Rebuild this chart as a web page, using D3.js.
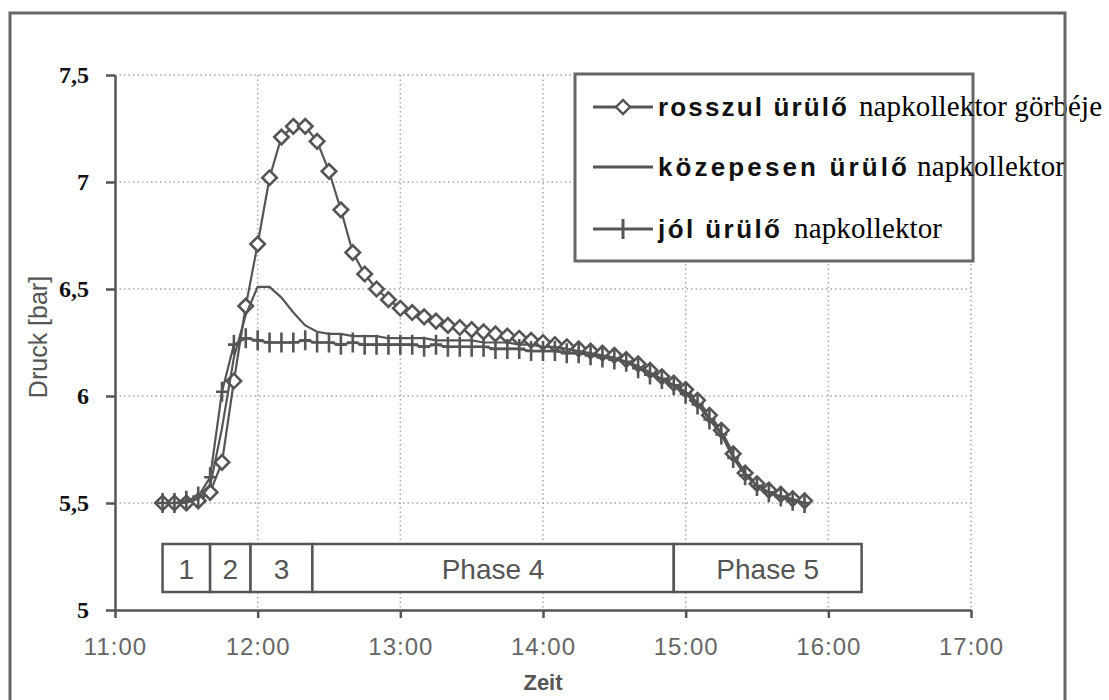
<!DOCTYPE html>
<html><head><meta charset="utf-8">
<script src="https://cdn.jsdelivr.net/npm/d3@7"></script>
<style>body{margin:0;background:#fff}</style>
</head><body>
<script>
// ---------- DATA ----------
const times = ["11:20","11:25","11:30","11:35","11:40","11:45","11:50","11:55",
 "12:00","12:05","12:10","12:15","12:20","12:25","12:30","12:35","12:40","12:45","12:50","12:55",
 "13:00","13:05","13:10","13:15","13:20","13:25","13:30","13:35","13:40","13:45","13:50","13:55",
 "14:00","14:05","14:10","14:15","14:20","14:25","14:30","14:35","14:40","14:45","14:50","14:55",
 "15:00","15:05","15:10","15:15","15:20","15:25","15:30","15:35","15:40","15:45","15:50"];
const rosszul = [5.50,5.50,5.50,5.51,5.55,5.69,6.07,6.42,
 6.71,7.02,7.21,7.26,7.26,7.19,7.05,6.87,6.67,6.57,6.50,6.45,
 6.41,6.39,6.37,6.35,6.33,6.32,6.31,6.30,6.29,6.28,6.27,6.26,
 6.25,6.24,6.23,6.22,6.21,6.20,6.19,6.17,6.15,6.12,6.09,6.06,
 6.03,5.98,5.91,5.84,5.73,5.64,5.59,5.56,5.54,5.52,5.51];
const kozepesen = [5.50,5.50,5.50,5.52,5.58,5.85,6.18,6.38,
 6.51,6.51,6.46,6.39,6.33,6.30,6.29,6.29,6.28,6.28,6.28,6.27,
 6.27,6.27,6.27,6.26,6.26,6.26,6.26,6.25,6.25,6.25,6.24,6.24,
 6.23,6.23,6.22,6.21,6.20,6.19,6.18,6.16,6.14,6.11,6.08,6.05,
 6.02,5.97,5.90,5.83,5.72,5.64,5.58,5.55,5.53,5.52,5.50];
const jol = [5.50,5.50,5.51,5.53,5.62,6.02,6.24,6.27,
 6.26,6.25,6.25,6.25,6.26,6.25,6.25,6.24,6.25,6.24,6.24,6.24,
 6.24,6.24,6.23,6.24,6.23,6.23,6.23,6.23,6.22,6.22,6.22,6.21,
 6.21,6.21,6.20,6.20,6.19,6.18,6.17,6.16,6.13,6.10,6.08,6.05,
 6.01,5.96,5.89,5.82,5.71,5.63,5.58,5.55,5.53,5.51,5.50];
const xTickValues = [11,12,13,14,15,16,17];
const xTickLabels = ["11:00","12:00","13:00","14:00","15:00","16:00","17:00"];
const yTickValues = [5,5.5,6,6.5,7,7.5];
const yTickLabels = ["5","5,5","6","6,5","7","7,5"];
const phaseStarts = ["11:20","11:40","11:57","12:23","14:55"];
const phaseEnds   = ["11:40","11:57","12:23","14:55","16:14"];
const phaseLabels = ["1","2","3","Phase 4","Phase 5"];
const legendBold = ["rosszul ürülő","közepesen ürülő","jól ürülő"];
const legendNormal = ["napkollektor görbéje","napkollektor","napkollektor"];
const xTitle = "Zeit";
const yTitle = "Druck [bar]";

// ---------- SETUP ----------
const W = 1109, H = 700;
const ink = "#555";
const svg = d3.select("body").append("svg").attr("width", W).attr("height", H)
  .style("background", "#fff");
const toH = s => { const [h, m] = s.split(":").map(Number); return h + m / 60; };
const x = d3.scaleLinear().domain([11, 17]).range([115, 971]);
const y = d3.scaleLinear().domain([5, 7.5]).range([610, 75]);

// gridlines (dotted)
const grid = svg.append("g").attr("stroke", "#a8a8a8").attr("stroke-width", 1.5)
  .attr("stroke-dasharray", "1.5,3");
grid.selectAll(".h").data(yTickValues.slice(1)).join("line")
  .attr("x1", x(11)).attr("x2", x(17)).attr("y1", d => y(d)).attr("y2", d => y(d));
grid.selectAll(".v").data(xTickValues.slice(1)).join("line")
  .attr("y1", y(7.5)).attr("y2", y(5)).attr("x1", d => x(d)).attr("x2", d => x(d));

// axes
const yAxis = svg.append("g").attr("transform", `translate(${x(11)},0)`)
  .call(d3.axisLeft(y).tickValues(yTickValues).tickSize(9).tickSizeOuter(0).tickPadding(17)
    .tickFormat((d, i) => yTickLabels[i]));
yAxis.selectAll("path,line").attr("stroke", ink).attr("stroke-width", 2.5);
yAxis.selectAll("text").attr("font-family", "Liberation Serif, serif").attr("font-weight", "bold")
  .attr("font-size", 24).attr("fill", "#111");

const xAxis = svg.append("g").attr("transform", `translate(0,${y(5)})`)
  .call(d3.axisBottom(x).tickValues(xTickValues).tickSize(8).tickSizeOuter(0).tickPadding(20)
    .tickFormat((d, i) => xTickLabels[i]));
xAxis.selectAll("path,line").attr("stroke", ink).attr("stroke-width", 2.5);
xAxis.selectAll("text").attr("font-family", "Liberation Sans, Arial, sans-serif")
  .attr("font-size", 24).attr("fill", "#666").attr("letter-spacing", 1);

// axis titles
svg.append("text").attr("x", x(14)).attr("y", 690).attr("text-anchor", "middle")
  .attr("font-family", "Liberation Sans, Arial, sans-serif").attr("font-weight", "bold")
  .attr("font-size", 22).attr("fill", ink).text(xTitle);
svg.append("text").attr("transform", "translate(47,337) rotate(-90)").attr("text-anchor", "middle")
  .attr("font-family", "Liberation Sans, Arial, sans-serif").attr("font-size", 25)
  .attr("fill", ink).text(yTitle);

// phase boxes
const pg = svg.append("g");
const phases = phaseLabels.map((l, i) => ({ l, a: toH(phaseStarts[i]), b: toH(phaseEnds[i]) }));
pg.selectAll("rect").data(phases).join("rect")
  .attr("x", d => x(d.a)).attr("width", d => x(d.b) - x(d.a))
  .attr("y", 544).attr("height", 48)
  .attr("fill", "#fff").attr("stroke", ink).attr("stroke-width", 2.5);
pg.selectAll("text").data(phases).join("text")
  .attr("x", d => (x(d.a) + x(d.b)) / 2).attr("y", 579).attr("text-anchor", "middle")
  .attr("font-family", "Liberation Sans, Arial, sans-serif").attr("font-size", 28)
  .attr("fill", "#555").text(d => d.l);

// series
const pts = arr => arr.map((v, i) => [toH(times[i]), v]);
const line = d3.line().x(d => x(d[0])).y(d => y(d[1]));

const gR = svg.append("g");
gR.append("path").attr("d", line(pts(rosszul))).attr("fill", "none")
  .attr("stroke", ink).attr("stroke-width", 2.2);
gR.selectAll("path.m").data(pts(rosszul)).join("path").attr("class", "m")
  .attr("d", d3.symbol(d3.symbolSquare, 105))
  .attr("transform", d => `translate(${x(d[0])},${y(d[1])}) rotate(45)`)
  .attr("fill", "#fff").attr("stroke", ink).attr("stroke-width", 2.6);

svg.append("path").attr("d", line(pts(kozepesen))).attr("fill", "none")
  .attr("stroke", ink).attr("stroke-width", 2.2);

const gJ = svg.append("g");
gJ.append("path").attr("d", line(pts(jol))).attr("fill", "none")
  .attr("stroke", ink).attr("stroke-width", 2.2);
gJ.selectAll("path.m").data(pts(jol)).join("path").attr("class", "m")
  .attr("d", "M0,-10V10M-6,0H6")
  .attr("transform", d => `translate(${x(d[0])},${y(d[1])})`)
  .attr("fill", "none").attr("stroke", ink).attr("stroke-width", 2.6);

// legend
const lg = svg.append("g");
lg.append("rect").attr("x", 575).attr("y", 74).attr("width", 398).attr("height", 187)
  .attr("fill", "#fff").attr("stroke", "#666").attr("stroke-width", 3);
const rowsY = [107, 167, 229];
const boldW = [189, 249, 122];
const normX = [859, 917, 794];
const normW = [243, 148, 148];
rowsY.forEach((ry, i) => {
  lg.append("line").attr("x1", 593).attr("x2", 653).attr("y1", ry).attr("y2", ry)
    .attr("stroke", ink).attr("stroke-width", 3);
  if (i === 0) {
    lg.append("path").attr("d", d3.symbol(d3.symbolSquare, 100))
      .attr("transform", `translate(623,${ry}) rotate(45)`)
      .attr("fill", "#fff").attr("stroke", ink).attr("stroke-width", 2.4);
  }
  if (i === 2) {
    lg.append("path").attr("d", "M0,-10V10").attr("transform", `translate(623,${ry})`)
      .attr("stroke", ink).attr("stroke-width", 3);
  }
  lg.append("text").attr("x", 658).attr("y", ry + 9)
    .attr("font-family", "Liberation Sans, Arial, sans-serif").attr("font-weight", "bold")
    .attr("font-size", 26).attr("fill", "#111")
    .attr("textLength", boldW[i]).attr("lengthAdjust", "spacing").text(legendBold[i]);
  lg.append("text").attr("x", normX[i]).attr("y", ry + 9)
    .attr("font-family", "Liberation Serif, 'Times New Roman', serif")
    .attr("font-size", 29).attr("fill", "#000")
    .attr("textLength", normW[i]).attr("lengthAdjust", "spacing").text(legendNormal[i]);
});

// outer frame (drawn last, it crosses the overflowing legend text)
svg.append("rect").attr("x", 10).attr("y", 13).attr("width", 1055).attr("height", 720)
  .attr("fill", "none").attr("stroke", "#666").attr("stroke-width", 3);
</script>
</body></html>
